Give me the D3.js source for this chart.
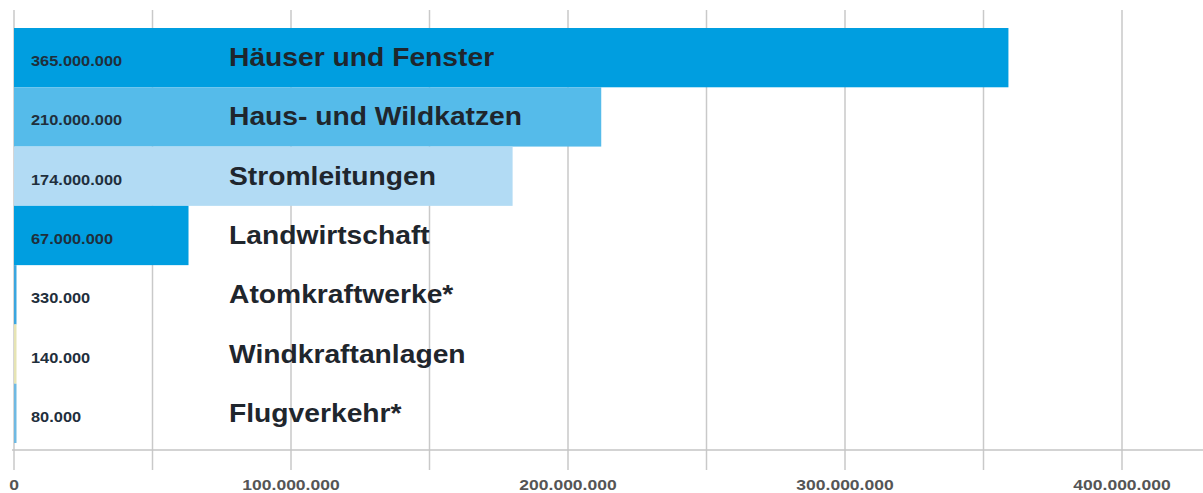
<!DOCTYPE html>
<html><head><meta charset="utf-8">
<script src="https://cdn.jsdelivr.net/npm/d3@7"></script>
<style>html,body{margin:0;padding:0;background:#fff;}svg{display:block;}</style>
</head><body>
<svg id="chart" width="1203" height="493"></svg>
<script>
const categories = ["Häuser und Fenster","Haus- und Wildkatzen","Stromleitungen","Landwirtschaft","Atomkraftwerke*","Windkraftanlagen","Flugverkehr*"];
const values = [359000000, 212000000, 180000000, 63000000, 330000, 140000, 80000];
const valueLabels = ["365.000.000","210.000.000","174.000.000","67.000.000","330.000","140.000","80.000"];
const barColors = ["#009ee0","#55bbea","#b2dbf4","#009ee0","#3aa6df","#e6e4b4","#6fb9e2"];
const gridTicks = [0,50e6,100e6,150e6,200e6,250e6,300e6,350e6,400e6];
const tickLabels = ["0","","100.000.000","","200.000.000","","300.000.000","","400.000.000"];

const svg = d3.select("#chart");
const W = 1203, H = 493;
const x = d3.scaleLinear().domain([0, 400e6]).range([14, 1122]);
const y = d3.scaleBand().domain(categories).range([28, 443]).padding(0);
const axisY = 450;
const SX = 1.13;

// gridlines
svg.append("g").selectAll("line").data(gridTicks).join("line")
  .attr("x1", d => x(d)).attr("x2", d => x(d))
  .attr("y1", 10).attr("y2", 470)
  .attr("stroke", "#c9c9c9").attr("stroke-width", 1.5);

// axis baseline
svg.append("line").attr("x1", 12).attr("x2", W).attr("y1", axisY).attr("y2", axisY)
  .attr("stroke", "#c4c4c4").attr("stroke-width", 1.5);

// bars
svg.append("g").selectAll("rect").data(values).join("rect")
  .attr("x", x(0))
  .attr("y", (d, i) => y(categories[i]))
  .attr("width", d => Math.max(x(d) - x(0), 2.5))
  .attr("height", y.bandwidth())
  .attr("fill", (d, i) => barColors[i]);

// value labels
svg.append("g").selectAll("text").data(valueLabels).join("text")
  .attr("transform", (d, i) => `translate(31,${y(categories[i]) + y.bandwidth()/2 + 8.5}) scale(${SX},1)`)
  .attr("font-family", "Liberation Sans, Arial, sans-serif")
  .attr("font-weight", "bold").attr("font-size", 14.5)
  .attr("fill", "#1f2f3c")
  .text(d => d);

// category labels
svg.append("g").selectAll("text").data(categories).join("text")
  .attr("transform", d => `translate(229,${y(d) + y.bandwidth()/2 + 8.5}) scale(${SX},1)`)
  .attr("font-family", "Liberation Sans, Arial, sans-serif")
  .attr("font-weight", "bold").attr("font-size", 25)
  .attr("fill", "#1f262d")
  .text(d => d);

// tick labels
svg.append("g").selectAll("text").data(gridTicks).join("text")
  .attr("transform", (d) => `translate(${x(d)},490) scale(${SX},1)`)
  .attr("text-anchor", "middle")
  .attr("font-family", "Liberation Sans, Arial, sans-serif")
  .attr("font-weight", "bold").attr("font-size", 15.5)
  .attr("fill", "#555")
  .text((d, i) => tickLabels[i]);
</script>
</body></html>
